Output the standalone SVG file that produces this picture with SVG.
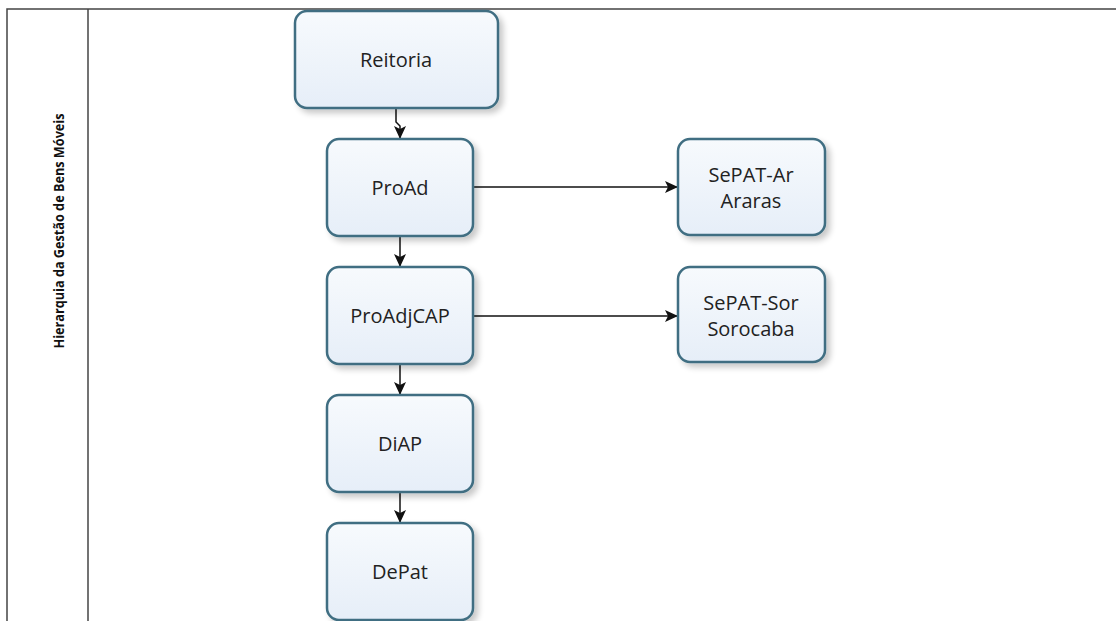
<svg xmlns="http://www.w3.org/2000/svg" width="1116" height="621" viewBox="0 0 1116 621">
<defs>
<linearGradient id="g" x1="0" y1="0" x2="0" y2="1">
<stop offset="0" stop-color="#f7fafd"/>
<stop offset="1" stop-color="#e6eef8"/>
</linearGradient>
<filter id="sh" x="-10%" y="-10%" width="130%" height="130%">
<feGaussianBlur in="SourceAlpha" stdDeviation="3"/>
<feOffset dx="4" dy="4" result="b"/>
<feComponentTransfer><feFuncA type="linear" slope="0.22"/></feComponentTransfer>
<feMerge><feMergeNode/><feMergeNode in="SourceGraphic"/></feMerge>
</filter>
<marker id="ah" markerWidth="14" markerHeight="14" refX="13" refY="6" orient="auto" markerUnits="userSpaceOnUse">
<path d="M0,0 L13,6 L0,12 L3,6 Z" fill="#111"/>
</marker>
</defs>
<style>
.box{fill:url(#g);stroke:#3f6e82;stroke-width:2.5;filter:url(#sh)}
.t{font-family:"Open Sans","Noto Sans",sans-serif;font-size:20px;fill:#222;text-anchor:middle}
.c{stroke:#111;stroke-width:1.5;fill:none;marker-end:url(#ah)}
.frame{stroke:#444;stroke-width:1.5;fill:none}
</style>
<rect width="1116" height="621" fill="#ffffff"/>
<g id="frame">
<path class="frame" d="M7,621 V9 H1116"/>
<path class="frame" d="M88,9 V621"/>
<text x="0" y="0" transform="translate(64,231) rotate(-90)" textLength="235" lengthAdjust="spacingAndGlyphs" style="font-family:'Open Sans','Noto Sans',sans-serif;font-size:15px;font-weight:bold;fill:#111;text-anchor:middle">Hierarquia da Gestão de Bens Móveis</text>
</g>
<g id="connectors">
<path class="c" d="M396,108 V122 L400,126 V139"/>
<path class="c" d="M400,236 V267"/>
<path class="c" d="M400,364 V395"/>
<path class="c" d="M400,492 V523"/>
<path class="c" d="M473,187 H678"/>
<path class="c" d="M473,316 H678"/>
</g>
<g id="reitoria">
<rect class="box" x="295" y="11" width="203" height="97" rx="12"/>
<text class="t" x="396" y="67">Reitoria</text>
</g>
<g id="proad">
<rect class="box" x="327" y="139" width="146" height="97" rx="12"/>
<text class="t" x="400" y="195">ProAd</text>
</g>
<g id="proadjcap">
<rect class="box" x="327" y="267" width="146" height="97" rx="12"/>
<text class="t" x="400" y="323">ProAdjCAP</text>
</g>
<g id="diap">
<rect class="box" x="327" y="395" width="146" height="97" rx="12"/>
<text class="t" x="400" y="451">DiAP</text>
</g>
<g id="depat">
<rect class="box" x="327" y="523" width="146" height="97" rx="12"/>
<text class="t" x="400" y="579">DePat</text>
</g>
<g id="sepat-ar">
<rect class="box" x="678" y="139" width="147" height="96" rx="12"/>
<text class="t" x="751" y="182">SePAT-Ar</text>
<text class="t" x="751" y="208">Araras</text>
</g>
<g id="sepat-sor">
<rect class="box" x="678" y="267" width="147" height="95" rx="12"/>
<text class="t" x="751" y="310">SePAT-Sor</text>
<text class="t" x="751" y="336">Sorocaba</text>
</g>
</svg>
